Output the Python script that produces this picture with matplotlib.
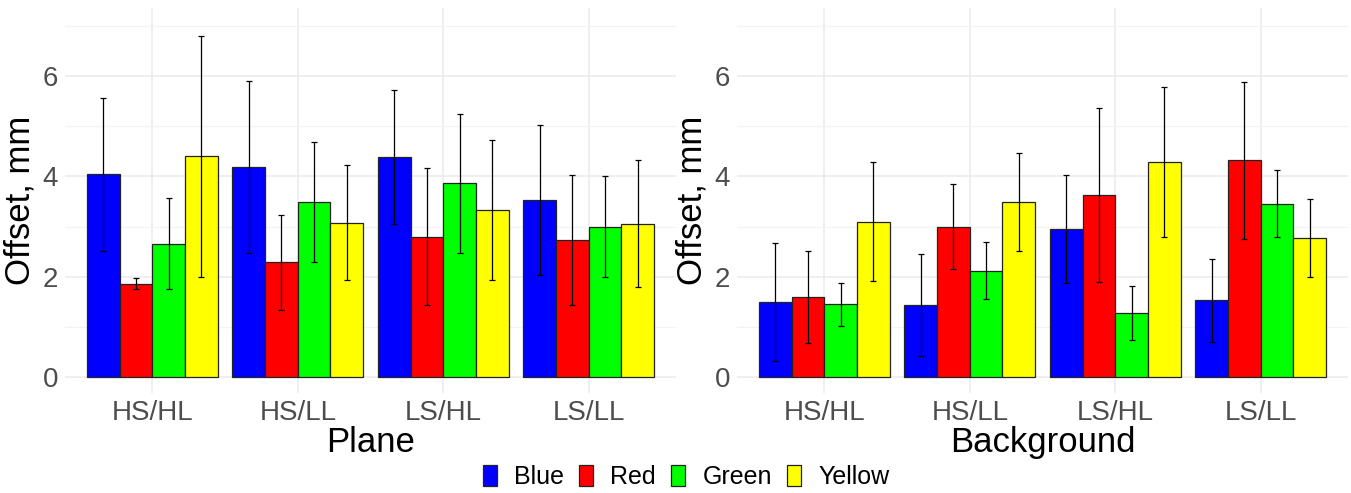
import numpy as np
import matplotlib
matplotlib.use("Agg")
from matplotlib import pyplot as plt
from matplotlib.patches import Patch

plt.rcParams['font.family'] = ['Liberation Sans', 'DejaVu Sans']

categories = ["HS/HL", "HS/LL", "LS/HL", "LS/LL"]
colours = ["Blue", "Red", "Green", "Yellow"]
fills = ["#0000FF", "#FF0000", "#00FF00", "#FFFF00"]

# Plane panel: means and error half-widths, one list per colour
plane_blue = [4.04, 4.19, 4.39, 3.53]
plane_red = [1.86, 2.29, 2.80, 2.73]
plane_green = [2.66, 3.49, 3.86, 3.00]
plane_yellow = [4.40, 3.08, 3.33, 3.06]
plane_blue_sd = [1.52, 1.72, 1.33, 1.49]
plane_red_sd = [0.11, 0.95, 1.36, 1.29]
plane_green_sd = [0.91, 1.19, 1.39, 1.00]
plane_yellow_sd = [2.40, 1.15, 1.39, 1.26]

# Background panel
back_blue = [1.50, 1.43, 2.95, 1.53]
back_red = [1.60, 3.00, 3.63, 4.32]
back_green = [1.45, 2.12, 1.28, 3.46]
back_yellow = [3.10, 3.49, 4.29, 2.77]
back_blue_sd = [1.18, 1.02, 1.07, 0.83]
back_red_sd = [0.92, 0.84, 1.74, 1.57]
back_green_sd = [0.43, 0.57, 0.54, 0.66]
back_yellow_sd = [1.18, 0.98, 1.50, 0.77]

W, H = 1351, 493
fig = plt.figure(figsize=(W / 100, H / 100), dpi=100)


def panel(rect, means, sds, xlabel):
    ax = fig.add_axes(rect)
    x = np.arange(len(categories))
    bw = 0.9 / 4
    for i, (m, s) in enumerate(zip(means, sds)):
        pos = x - 0.45 + bw * (i + 0.5)
        ax.bar(pos, m, width=bw, color=fills[i], edgecolor="#222222",
               linewidth=0.9, zorder=3)
        ax.errorbar(pos, m, yerr=s, fmt="none", ecolor="black",
                    elinewidth=0.9, capsize=2.3, capthick=0.9, zorder=4)
    ax.set_xlim(-0.6, 3.6)
    ax.set_ylim(-0.32, 7.36)
    ax.set_yticks([0, 2, 4, 6])
    ax.set_yticks([1, 3, 5, 7], minor=True)
    ax.set_xticks(x)
    ax.set_xticklabels(categories)
    ax.grid(True, which="major", color="#EBEBEB", linewidth=1.1, zorder=0)
    ax.grid(True, which="minor", axis="y", color="#F3F3F3", linewidth=0.9, zorder=0)
    for sp in ax.spines.values():
        sp.set_visible(False)
    ax.tick_params(which="both", length=0, labelsize=20, labelcolor="#4D4D4D")
    ax.tick_params(axis="y", pad=5)
    ax.tick_params(axis="x", pad=5)
    ax.set_ylabel("Offset, mm", fontsize=25, labelpad=4)
    ax.set_xlabel(xlabel, fontsize=25, labelpad=0)
    return ax


panel([65 / W, 100 / H, 611 / W, 385 / H],
      [plane_blue, plane_red, plane_green, plane_yellow],
      [plane_blue_sd, plane_red_sd, plane_green_sd, plane_yellow_sd], "Plane")
panel([737 / W, 100 / H, 611 / W, 385 / H],
      [back_blue, back_red, back_green, back_yellow],
      [back_blue_sd, back_red_sd, back_green_sd, back_yellow_sd], "Background")

handles = [Patch(facecolor=c, edgecolor="#222222", linewidth=0.9) for c in fills]
fig.legend(handles, colours, loc="center", bbox_to_anchor=(686 / W, 16 / H),
           ncol=4, frameon=False, fontsize=18, handlelength=0.55, handleheight=0.9,
           handletextpad=0.7, columnspacing=0.6, borderpad=0.1)

fig.savefig("out.png", dpi=100)
